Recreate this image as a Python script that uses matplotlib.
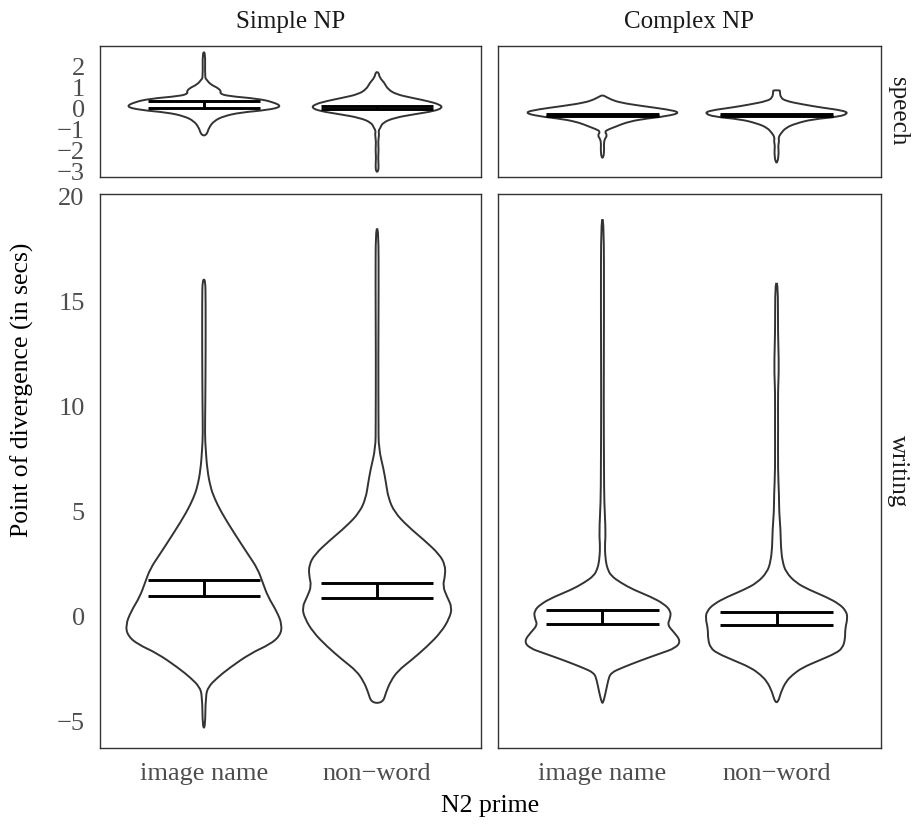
import numpy as np
import matplotlib
matplotlib.use("Agg")
import matplotlib.pyplot as plt
from matplotlib.path import Path
from matplotlib.patches import PathPatch

plt.rcParams['font.family'] = ['Liberation Serif', 'DejaVu Serif']

categories = ['image name', 'non\u2212word']
np_types = ['Simple NP', 'Complex NP']
modes = ['speech', 'writing']

# violin outlines: levels (secs) and half widths (x units)
sp_simple_img_y = [2.71, 1.50, 1.41, 1.17, 1.02, 0.85, 0.74, 0.62, 0.49, 0.33, 0.11,
                   -0.05, -0.17, -0.34, -0.57, -0.89, -1.16, -1.26]
sp_simple_img_w = [0.008, 0.006, 0.014, 0.038, 0.077, 0.10, 0.092, 0.135, 0.31, 0.40, 0.452,
                   0.366, 0.21, 0.115, 0.058, 0.029, 0.019, 0.006]
sp_simple_non_y = [1.76, 1.49, 1.25, 0.94, 0.70, 0.54, 0.38, 0.22, 0.06, -0.10, -0.25,
                   -0.42, -0.65, -0.89, -1.04, -1.21, -1.55, -1.93, -2.32, -2.71, -2.99]
sp_simple_non_w = [0.008, 0.015, 0.042, 0.062, 0.11, 0.196, 0.29, 0.36, 0.379, 0.33, 0.216,
                   0.10, 0.033, 0.019, 0.008, 0.012, 0.006, 0.009, 0.006, 0.009, 0.006]
sp_complex_img_y = [0.65, 0.45, 0.30, 0.15, -0.02, -0.17, -0.34, -0.49, -0.65, -0.81, -0.97,
                    -1.08, -1.26, -1.44, -1.68, -1.92, -2.32]
sp_complex_img_w = [0.006, 0.048, 0.105, 0.22, 0.373, 0.45, 0.373, 0.22, 0.134, 0.086, 0.035,
                    0.012, 0.028, 0.012, 0.008, 0.010, 0.006]
sp_complex_non_y = [0.89, 0.85, 0.54, 0.38, 0.22, 0.06, -0.07, -0.20, -0.37, -0.49, -0.69,
                    -0.89, -1.16, -1.36, -1.53, -1.76, -2.08, -2.55]
sp_complex_non_w = [0.019, 0.019, 0.023, 0.054, 0.149, 0.264, 0.379, 0.414, 0.36, 0.207, 0.111,
                    0.054, 0.025, 0.011, 0.015, 0.009, 0.013, 0.006]

wr_simple_img_y = [16.04, 15.06, 12.54, 10.01, 8.66, 8.00, 6.99, 6.15, 5.64, 4.96, 3.96, 2.95,
                   2.27, 1.60, 0.93, 0.25, -0.41, -0.93, -1.34, -1.76, -2.44, -2.94, -3.36, -3.79, -5.30]
wr_simple_img_w = [0.008, 0.010, 0.010, 0.008, 0.006, 0.010, 0.019, 0.038, 0.06, 0.10, 0.175, 0.255,
                   0.31, 0.34, 0.37, 0.42, 0.452, 0.44, 0.38, 0.27, 0.15, 0.075, 0.025, 0.010, 0.007]
wr_simple_non_y = [18.46, 15.65, 12.38, 9.12, 8.00, 6.99, 6.31, 5.64, 4.96, 4.29, 3.62, 2.95,
                   2.44, 1.94, 1.44, 0.93, 0.42, -0.09, -0.75, -1.43, -2.10, -2.60, -3.11, -3.61, -4.12]
wr_simple_non_w = [0.008, 0.009, 0.007, 0.008, 0.009, 0.038, 0.052, 0.065, 0.10, 0.177, 0.273, 0.36,
                   0.393, 0.393, 0.379, 0.404, 0.433, 0.418, 0.37, 0.29, 0.196, 0.119, 0.077, 0.052, 0.033]
wr_complex_img_y = [18.90, 14.56, 10.21, 6.94, 5.47, 3.96, 3.29, 2.61, 2.27, 1.94, 1.60, 1.26, 0.93,
                    0.59, 0.25, -0.09, -0.41, -0.75, -1.18, -1.51, -1.76, -2.10, -2.44, -2.69, -3.03, -3.61, -4.12]
wr_complex_img_w = [0.008, 0.009, 0.007, 0.009, 0.010, 0.019, 0.013, 0.019, 0.029, 0.048, 0.105, 0.18, 0.278,
                    0.354, 0.393, 0.389, 0.373, 0.41, 0.45, 0.42, 0.335, 0.22, 0.115, 0.048, 0.033, 0.019, 0.004]
wr_complex_non_y = [15.87, 13.47, 11.84, 10.75, 9.12, 6.94, 5.85, 4.96, 4.12, 3.29, 2.61, 2.10, 1.60, 1.26,
                    0.93, 0.59, 0.25, -0.09, -0.59, -1.09, -1.51, -1.76, -2.10, -2.44, -2.78, -3.11, -3.61, -4.09]
wr_complex_non_w = [0.008, 0.008, 0.014, 0.008, 0.009, 0.008, 0.014, 0.015, 0.023, 0.025, 0.034, 0.054, 0.111, 0.188,
                    0.283, 0.36, 0.40, 0.408, 0.394, 0.394, 0.379, 0.34, 0.245, 0.149, 0.092, 0.054, 0.025, 0.009]

# confidence intervals (upper, lower) per category
sp_simple_ci = [(0.37, 0.06), (0.12, 0.0)]
sp_complex_ci = [(-0.26, -0.34), (-0.26, -0.33)]
wr_simple_ci = [(1.72, 0.98), (1.57, 0.89)]
wr_complex_ci = [(0.28, -0.38), (0.21, -0.41)]

speech_ticks = [-3, -2, -1, 0, 1, 2]
writing_ticks = [-5, 0, 5, 10, 15, 20]

panels = {
    ('speech', 'Simple NP'): ([(sp_simple_img_y, sp_simple_img_w), (sp_simple_non_y, sp_simple_non_w)], sp_simple_ci),
    ('speech', 'Complex NP'): ([(sp_complex_img_y, sp_complex_img_w), (sp_complex_non_y, sp_complex_non_w)], sp_complex_ci),
    ('writing', 'Simple NP'): ([(wr_simple_img_y, wr_simple_img_w), (wr_simple_non_y, wr_simple_non_w)], wr_simple_ci),
    ('writing', 'Complex NP'): ([(wr_complex_img_y, wr_complex_img_w), (wr_complex_non_y, wr_complex_non_w)], wr_complex_ci),
}
row_limits = {'speech': (-3.24, 3.0), 'writing': (-6.27, 20.11)}
row_ticks = {'speech': speech_ticks, 'writing': writing_ticks}


def violin_path(pos, ys, ws):
    # closed outline, rounded through the midpoints of the read-off polygon
    ys = np.asarray(ys)
    ws = np.asarray(ws)
    pts = np.column_stack([np.concatenate([pos - ws, (pos + ws)[::-1]]),
                           np.concatenate([ys, ys[::-1]])])
    mids = (pts + np.roll(pts, -1, axis=0)) / 2
    verts = [mids[-1]]
    codes = [Path.MOVETO]
    for p, m in zip(pts, mids):
        verts += [p, m]
        codes += [Path.CURVE3, Path.CURVE3]
    return Path(verts, codes)


W, H = 917, 825
fig = plt.figure(figsize=(W / 100, H / 100), dpi=100)

col_px = [(100, 481), (498, 881)]
row_px = {'speech': (46, 177), 'writing': (194, 748)}

tick_grey = '#4d4d4d'
outline = '#333333'

for r, mode in enumerate(modes):
    for c, npt in enumerate(np_types):
        x0, x1 = col_px[c]
        y0, y1 = row_px[mode]
        ax = fig.add_axes([x0 / W, 1 - y1 / H, (x1 - x0) / W, (y1 - y0) / H])
        violins, ci = panels[(mode, npt)]
        for i, (ys, ws) in enumerate(violins):
            pos = i + 1
            ax.add_patch(PathPatch(violin_path(pos, ys, ws), facecolor='white',
                                   edgecolor=outline, lw=1.4, joinstyle='round', zorder=2))
            hi, lo = ci[i]
            ax.hlines([hi, lo], pos - 0.325, pos + 0.325, color='black', lw=2.1, zorder=3)
            ax.vlines(pos, lo, hi, color='black', lw=2.1, zorder=3)
        ax.set_xlim(0.4, 2.6)
        ax.set_ylim(*row_limits[mode])
        ax.set_yticks(row_ticks[mode])
        ax.set_xticks([1, 2])
        if mode == 'writing':
            ax.set_xticklabels(categories)
        else:
            ax.set_xticklabels([])
        if c == 1:
            ax.set_yticklabels([])
        ax.tick_params(length=0, labelsize=19, labelcolor=tick_grey, pad=11)
        for s in ax.spines.values():
            s.set_color(outline)
            s.set_linewidth(1.0)

for c, npt in enumerate(np_types):
    x0, x1 = col_px[c]
    fig.text((x0 + x1) / 2 / W, 1 - 22 / H, npt, ha='center', va='center',
             fontsize=18, color='#1a1a1a')
for mode in modes:
    y0, y1 = row_px[mode]
    fig.text(898 / W, 1 - (y0 + y1) / 2 / H, mode, ha='center', va='center',
             rotation=-90, fontsize=18, color='#1a1a1a')

fig.text(490.5 / W, 1 - 806 / H, 'N2 prime', ha='center', va='center', fontsize=18.5)
fig.text(22 / W, 1 - 390 / H, 'Point of divergence (in secs)', ha='center', va='center',
         rotation=90, fontsize=18.5)

fig.savefig('out.png', dpi=100, facecolor='white')
